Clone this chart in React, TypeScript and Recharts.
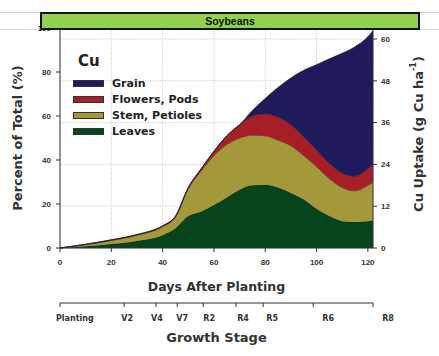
import { ComposedChart, Area, Line, XAxis, YAxis, CartesianGrid, Legend, Label } from 'recharts'

// days after planting and the share of total Cu in each plant part (%)
const DAYS = [0, 10, 20, 30, 40, 45, 50, 55, 60, 65, 70, 75, 80, 85, 90, 95, 100, 105, 110, 115, 120, 122]
const LEAVES = [0, 0.8, 1.8, 3.2, 5.8, 9, 14.5, 16.5, 19.5, 23, 26.5, 28.5, 28.8, 27.5, 25, 22, 17.8, 14.5, 12.2, 11.8, 12.2, 12.3]
const STEM = [0, 0.7, 1.6, 2.6, 3.9, 5, 12.5, 18.5, 22.5, 24, 23.5, 22.8, 22.2, 21.5, 21.5, 20, 19.2, 17, 15.3, 14.2, 16.3, 17.5]
const FLOWERS = [0, 0.2, 0.3, 0.3, 0.4, 0.5, 0.5, 1, 2, 4, 6, 8.7, 10, 10.5, 9.5, 8.5, 7.5, 7, 6.5, 6.7, 7.5, 8]
const GRAIN = [0, 0, 0, 0, 0, 0, 0, 0, 0, 0, 0, 2.5, 7, 13.5, 21.3, 30.3, 38.8, 47.5, 54.5, 58.8, 60, 61]

const X_TICKS = [0, 20, 40, 60, 80, 100, 120]
const LEFT_TICKS = [0, 20, 40, 60, 80, 100]
const RIGHT_TICKS = [0, 12, 24, 36, 48, 60]
const STAGE_DAYS = [0, 25, 37.4, 45.7, 55.8, 68.6, 79.2, 98.7, 122]
const STAGE_LABELS = ['Planting', 'V2', 'V4', 'V7', 'R2', 'R4', 'R5', 'R6', 'R8']

const data = DAYS.map((day, i) => ({
  day,
  Leaves: LEAVES[i],
  Stem: STEM[i],
  Flowers: FLOWERS[i],
  Grain: GRAIN[i],
}))

const SERIES = [
  { key: 'Grain', name: 'Grain', color: '#1f1a5c' },
  { key: 'Flowers', name: 'Flowers, Pods', color: '#a61f27' },
  { key: 'Stem', name: 'Stem, Petioles', color: '#a3993a' },
  { key: 'Leaves', name: 'Leaves', color: '#06451b' },
]

const FONT = '"DejaVu Sans", sans-serif'
const NUM_FONT = '"Liberation Sans", Arial, sans-serif'
const TEXT = '#333'
const LABEL_NUDGE = [-4, 3, 1, 5, 6, 7, 9, 15, 15]
const numTick = { fontFamily: NUM_FONT, fontWeight: 'bold', fontSize: 8, fill: TEXT }

function StageTick(props: any) {
  const { x, y, index } = props
  const first = index === 0
  return (
    <text
      x={x + LABEL_NUDGE[index]}
      y={y + 12}
      textAnchor={first ? 'start' : 'middle'}
      fontFamily={FONT}
      fontWeight="bold"
      fontSize={8}
      fill={TEXT}
    >
      {STAGE_LABELS[index]}
    </text>
  )
}

function CuLegend() {
  return (
    <div style={{ fontFamily: FONT, fontWeight: 'bold', color: '#222' }}>
      <div style={{ fontSize: 15, marginLeft: 5, marginBottom: 5, lineHeight: '18px' }}>Cu</div>
      {SERIES.map((s) => (
        <div key={s.key} style={{ display: 'flex', alignItems: 'center', height: 16 }}>
          <span
            style={{
              width: 29, height: 5, background: s.color,
              border: '0.5px solid #333', marginRight: 8,
            }}
          />
          <span style={{ fontSize: 11 }}>{s.name}</span>
        </div>
      ))}
    </div>
  )
}

export default function App() {
  return (
    <div style={{ position: 'relative', width: 439, height: 356, background: '#fff' }}>
      <style>{'body{margin:0}'}</style>
      <div style={{ position: 'absolute', left: 0, right: 0, top: 12, borderTop: '1px solid #d6d6d6' }} />
      <div style={{ position: 'absolute', left: 0, right: 0, top: 29, borderTop: '1px solid #dcdcdc' }} />
      <ComposedChart
        width={439}
        height={356}
        data={data}
        margin={{ top: 28, right: 16, bottom: 8, left: 15 }}
      >
        <CartesianGrid
          yAxisId="right"
          stroke="#c4c4c4"
          strokeDasharray="1 1.5"
        />
        <XAxis
          dataKey="day"
          type="number"
          domain={[0, 122]}
          ticks={X_TICKS}
          height={55}
          tickSize={4}
          tickMargin={7}
          stroke="#333"
          tick={numTick}
        >
          <Label
            value="Days After Planting"
            position="insideBottom"
            offset={12}
            style={{ fontFamily: FONT, fontWeight: 'bold', fontSize: 12.5, fill: TEXT }}
          />
        </XAxis>
        <XAxis
          xAxisId="stage"
          dataKey="day"
          type="number"
          domain={[0, 122]}
          ticks={STAGE_DAYS}
          interval={0}
          height={45}
          tickSize={4}
          stroke="#333"
          tick={<StageTick />}
        >
          <Label
            value="Growth Stage"
            position="insideBottom"
            offset={6}
            style={{ fontFamily: FONT, fontWeight: 'bold', fontSize: 13, fill: TEXT }}
          />
        </XAxis>
        <YAxis
          domain={[0, 100]}
          ticks={LEFT_TICKS}
          width={45}
          tickSize={4}
          tickMargin={5}
          stroke="#333"
          tick={numTick}
        >
          <Label
            content={({ viewBox }: any) => {
              const cx = viewBox.x + 2
              const cy = viewBox.y + viewBox.height / 2
              return (
                <text
                  x={cx}
                  y={cy}
                  transform={`rotate(-90 ${cx} ${cy})`}
                  textAnchor="middle"
                  dominantBaseline="central"
                  fontFamily={FONT}
                  fontWeight="bold"
                  fontSize={13}
                  fill={TEXT}
                >
                  Percent of Total (%)
                </text>
              )
            }}
          />
        </YAxis>
        <YAxis
          yAxisId="right"
          orientation="right"
          domain={[0, 63.16]}
          ticks={RIGHT_TICKS}
          allowDataOverflow
          width={50}
          tickSize={4}
          tickMargin={4}
          stroke="#333"
          tick={{ ...numTick, textAnchor: 'start' }}
        >
          <Label
            content={({ viewBox }: any) => {
              const cx = viewBox.x + 45
              const cy = viewBox.y + viewBox.height / 2 - 4
              return (
                <text
                  x={cx}
                  y={cy}
                  transform={`rotate(-90 ${cx} ${cy})`}
                  textAnchor="middle"
                  dominantBaseline="central"
                  fontFamily={FONT}
                  fontWeight="bold"
                  fontSize={13}
                  fill={TEXT}
                >
                  Cu Uptake (g Cu ha
                  <tspan fontSize={8} dy={-5}>-1</tspan>
                  <tspan dy={5}>)</tspan>
                </text>
              )
            }}
          />
        </YAxis>
        {[...SERIES].reverse().map((s) => (
          <Area
            key={s.key}
            type="monotone"
            dataKey={s.key}
            name={s.name}
            stackId="cu"
            stroke="#1a1a1a"
            strokeWidth={0.7}
            fill={s.color}
            fillOpacity={1}
            isAnimationActive={false}
          />
        ))}
        {/* invisible series so the uptake axis is drawn */}
        <Line
          yAxisId="right"
          dataKey="Leaves"
          stroke="none"
          dot={false}
          activeDot={false}
          legendType="none"
          isAnimationActive={false}
        />
        <Legend
          layout="vertical"
          align="center"
          verticalAlign="middle"
          wrapperStyle={{ left: 73, top: 52, width: 150 }}
          content={() => <CuLegend />}
        />
      </ComposedChart>
      <div
        style={{
          position: 'absolute', left: 40, top: 12, width: 380, height: 18,
          boxSizing: 'border-box', border: '2px solid #111', background: '#92d050',
          fontFamily: '"Liberation Sans", Arial, sans-serif', fontWeight: 'bold',
          fontSize: 10.5, lineHeight: '14px', textAlign: 'center', color: '#111',
        }}
      >
        Soybeans
      </div>
    </div>
  )
}
